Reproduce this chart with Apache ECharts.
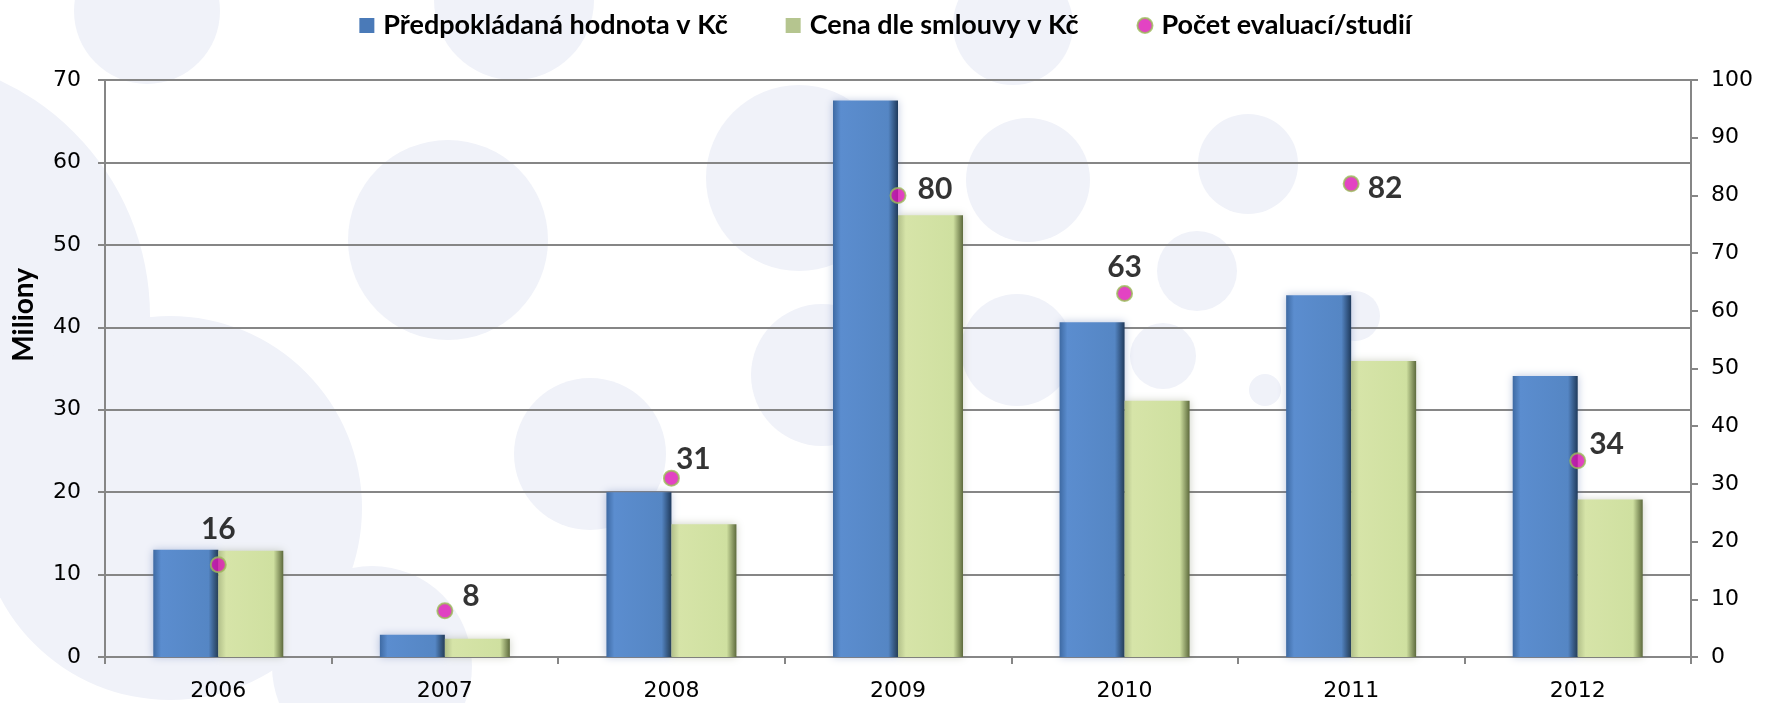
<!DOCTYPE html>
<html>
<head>
<meta charset="utf-8">
<script src="https://cdn.jsdelivr.net/npm/echarts@6/dist/echarts.min.js"></script>
<style>
html,body{margin:0;padding:0;background:#fff;}
#chart{width:1771px;height:703px;}
</style>
</head>
<body>
<div id="chart"></div>
<script>
var categories = ['2006','2007','2008','2009','2010','2011','2012'];
var expectedValue = [13.0, 2.7, 20.0, 67.5, 40.6, 43.9, 34.1];
var contractPrice = [12.9, 2.2, 16.1, 53.6, 31.1, 35.9, 19.1];
var studyCount = [16, 8, 31, 80, 63, 82, 34];
var leftTicks = {min: 0, max: 70, interval: 10};
var rightTicks = {min: 0, max: 100, interval: 10};
var seriesNames = ['Předpokládaná hodnota v Kč', 'Cena dle smlouvy v Kč', 'Počet evaluací/studií'];

var chart = echarts.init(document.getElementById('chart'), null, {renderer: 'canvas'});

// per-point label placement (style only)
var labelLayouts = [
  {position: 'top', distance: 12},
  {position: 'right', distance: 9, offset: [0, -15]},
  {position: 'right', distance: -4, offset: [0, -19]},
  {position: 'right', distance: 11, offset: [0, -6]},
  {position: 'top', distance: 3},
  {position: 'right', distance: 8, offset: [0, 4]},
  {position: 'right', distance: 3, offset: [0, -16]}
];

function barGrad(edgeL, mid, mid2, edgeR) {
  return new echarts.graphic.LinearGradient(0, 0, 1, 0, [
    {offset: 0, color: edgeL},
    {offset: 0.12, color: mid},
    {offset: 0.85, color: mid2},
    {offset: 1, color: edgeR}
  ]);
}
var blueFill = barGrad('#3e6aa3', '#5b8dcf', '#5586c4', '#1f3a5c');
var greenFill = barGrad('#b2c08a', '#d6e4a8', '#cfe0a0', '#5d6a3c');

var scatterData = studyCount.map(function (v, i) {
  return {value: v, label: labelLayouts[i]};
});

var bubbles = [
  [-110, 316, 260], [170, 508, 192], [147, 11, 73], [514, 0, 80], [448, 240, 100],
  [799, 178, 93], [590, 454, 76], [822, 375, 71], [1028, 180, 62], [1017, 350, 56],
  [1248, 164, 50], [1197, 271, 40], [1163, 356, 33], [1355, 316, 25], [1265, 390, 16],
  [372, 666, 100], [1013, 25, 60]
];
var graphics = bubbles.map(function (b) {
  return {type: 'circle', shape: {cx: b[0], cy: b[1], r: b[2]}, style: {fill: '#f0f2f9'}, z: -10, silent: true};
});
graphics.push({
  type: 'text', left: 10, top: 268, rotation: Math.PI / 2,
  style: {text: 'Miliony', font: 'bold 28px Lato', fill: '#000'}, z: 10
});

var option = {
  backgroundColor: '#ffffff',
  animation: false,
  graphic: graphics,
  legend: {
    top: 7,
    left: 'center',
    itemGap: 58,
    itemWidth: 15,
    itemHeight: 15,
    textStyle: {fontFamily: 'Lato', fontWeight: 'bold', fontSize: 27, color: '#000', padding: [0, 0, 0, 4]},
    data: [
      {name: seriesNames[0], icon: 'rect', itemStyle: {color: '#4a7ab8'}},
      {name: seriesNames[1], icon: 'rect', itemStyle: {color: '#b5c58f'}},
      {name: seriesNames[2], icon: 'circle'}
    ]
  },
  grid: {left: 105, right: 80, top: 80, bottom: 46, containLabel: false},
  xAxis: {
    type: 'category',
    data: categories,
    axisLine: {lineStyle: {color: '#868686', width: 2}},
    axisTick: {show: true, length: 7, lineStyle: {color: '#868686', width: 2}},
    axisLabel: {fontFamily: 'DejaVu Sans', fontSize: 22, color: '#000', margin: 23}
  },
  yAxis: [
    {
      type: 'value', min: leftTicks.min, max: leftTicks.max, interval: leftTicks.interval,
      axisLine: {show: true, lineStyle: {color: '#868686', width: 2}},
      axisTick: {show: true, length: 7, lineStyle: {color: '#868686', width: 2}},
      splitLine: {show: true, lineStyle: {color: '#868686', width: 2}},
      axisLabel: {fontFamily: 'DejaVu Sans', fontSize: 22, color: '#000', margin: 24}
    },
    {
      type: 'value', min: rightTicks.min, max: rightTicks.max, interval: rightTicks.interval,
      position: 'right',
      axisLine: {show: true, lineStyle: {color: '#868686', width: 2}},
      axisTick: {show: true, length: 7, lineStyle: {color: '#868686', width: 2}},
      splitLine: {show: false},
      axisLabel: {fontFamily: 'DejaVu Sans', fontSize: 22, color: '#000', margin: 20}
    }
  ],
  series: [
    {
      name: seriesNames[0], type: 'bar', data: expectedValue, yAxisIndex: 0,
      barWidth: 65, barGap: '0%',
      itemStyle: {color: blueFill, shadowColor: 'rgba(60,90,160,0.35)', shadowBlur: 8}
    },
    {
      name: seriesNames[1], type: 'bar', data: contractPrice, yAxisIndex: 0,
      barWidth: 65, barGap: '0%',
      itemStyle: {color: greenFill, shadowColor: 'rgba(90,100,60,0.3)', shadowBlur: 8}
    },
    {
      name: seriesNames[2], type: 'scatter', data: scatterData, yAxisIndex: 1,
      symbol: 'circle', symbolSize: 15, z: 5,
      itemStyle: {color: '#dc14b4', borderColor: '#9bbb59', borderWidth: 2},
      label: {show: true, fontFamily: 'Lato', fontWeight: 'bold', fontSize: 30, color: '#000',
        formatter: function (p) { return p.value; }}
    }
  ]
};
chart.setOption(option);
</script>
</body>
</html>
